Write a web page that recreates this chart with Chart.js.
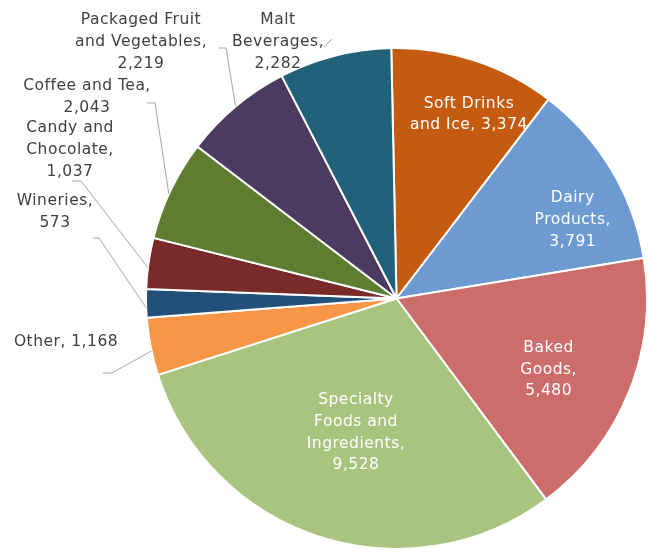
<!DOCTYPE html>
<html>
<head>
<meta charset="utf-8">
<script src="https://cdn.jsdelivr.net/npm/chart.js@4"></script>
<style>
  html, body { margin: 0; padding: 0; background: #fff; }
  #wrap { width: 648px; height: 554px; }
</style>
</head>
<body>
<div id="wrap"><canvas id="chart"></canvas></div>
<script>
const categories = [
  'Soft Drinks and Ice', 'Dairy Products', 'Baked Goods', 'Specialty Foods and Ingredients',
  'Other', 'Wineries', 'Candy and Chocolate', 'Coffee and Tea',
  'Packaged Fruit and Vegetables', 'Malt Beverages'
];
const values = [3374, 3791, 5480, 9528, 1168, 573, 1037, 2043, 2219, 2282];
const colors = [
  '#C55A11', '#6D9BD1', '#CD6D6B', '#A9C47F',
  '#F79646', '#23507A', '#7A2B29', '#5F7D31',
  '#4C3A60', '#22617A'
];

// label text lines (data label = name + value)
const labelLines = [
  ['Soft Drinks', 'and Ice, 3,374'],
  ['Dairy', 'Products,', '3,791'],
  ['Baked', 'Goods,', '5,480'],
  ['Specialty', 'Foods and', 'Ingredients,', '9,528'],
  ['Other, 1,168'],
  ['Wineries,', '573'],
  ['Candy and', 'Chocolate,', '1,037'],
  ['Coffee and Tea,', '2,043'],
  ['Packaged Fruit', 'and Vegetables,', '2,219'],
  ['Malt', 'Beverages,', '2,282']
];

// layout for labels: inside labels use radial factor, outside ones a fixed anchor
const labelLayout = [
  { inside: true, f: 0.79, da: 3.4 },
  { inside: true, f: 0.77, da: 7 },
  { inside: true, f: 0.67, da: 3 },
  { inside: true, f: 0.56, da: -1 },
  { x: 66, y: 342, da: -1, lead: [[103, 373], [112, 373]] },
  { x: 55, y: 212, da: -1, lead: [[93, 238], [99, 238]] },
  { x: 70, y: 150, da: -1, lead: [[72, 181], [81, 181]] },
  { x: 87, y: 97, da: -1, lead: [[147, 103], [155, 103]] },
  { x: 141, y: 42, da: 0, lead: [[218, 48], [226, 48]] },
  { x: 278, y: 42, lead: [[324, 47], [332, 39]] }
];

const labelPlugin = {
  id: 'pieLabels',
  afterDatasetsDraw(chart) {
    const ctx = chart.ctx;
    const meta = chart.getDatasetMeta(0);
    ctx.save();
    ctx.font = '15.5px "DejaVu Sans", sans-serif';
    ctx.letterSpacing = '0.5px';
    ctx.textAlign = 'center';
    ctx.textBaseline = 'middle';
    const lh = 21.7;
    meta.data.forEach((arc, i) => {
      const lay = labelLayout[i];
      const lines = labelLines[i];
      const mid = (arc.startAngle + arc.endAngle) / 2;
      let cx, cy;
      if (lay.inside) {
        const a = mid + lay.da * Math.PI / 180;
        cx = arc.x + Math.cos(a) * arc.outerRadius * lay.f;
        cy = arc.y + Math.sin(a) * arc.outerRadius * lay.f;
        ctx.fillStyle = '#ffffff';
      } else {
        cx = lay.x; cy = lay.y;
        ctx.fillStyle = '#404040';
        ctx.strokeStyle = '#a6a6a6';
        ctx.lineWidth = 1;
        ctx.beginPath();
        ctx.moveTo(lay.lead[0][0], lay.lead[0][1]);
        for (let k = 1; k < lay.lead.length; k++) ctx.lineTo(lay.lead[k][0], lay.lead[k][1]);
        if (lay.da !== undefined) {
          // leader line to the slice edge
          const a = mid + lay.da * Math.PI / 180;
          ctx.lineTo(arc.x + Math.cos(a) * arc.outerRadius, arc.y + Math.sin(a) * arc.outerRadius);
        }
        ctx.stroke();
      }
      const y0 = cy - (lines.length - 1) * lh / 2;
      lines.forEach((t, k) => ctx.fillText(t, cx, y0 + k * lh));
    });
    ctx.restore();
  }
};

new Chart(document.getElementById('chart'), {
  type: 'pie',
  data: {
    labels: categories,
    datasets: [{
      data: values,
      backgroundColor: colors,
      borderColor: '#ffffff',
      borderWidth: 2
    }]
  },
  options: {
    responsive: true,
    maintainAspectRatio: false,
    animation: false,
    rotation: -1.2,
    layout: { padding: { left: 145, right: 0, top: 47, bottom: 4 } },
    plugins: {
      legend: { display: false },
      tooltip: { enabled: false }
    }
  },
  plugins: [labelPlugin]
});
</script>
</body>
</html>
